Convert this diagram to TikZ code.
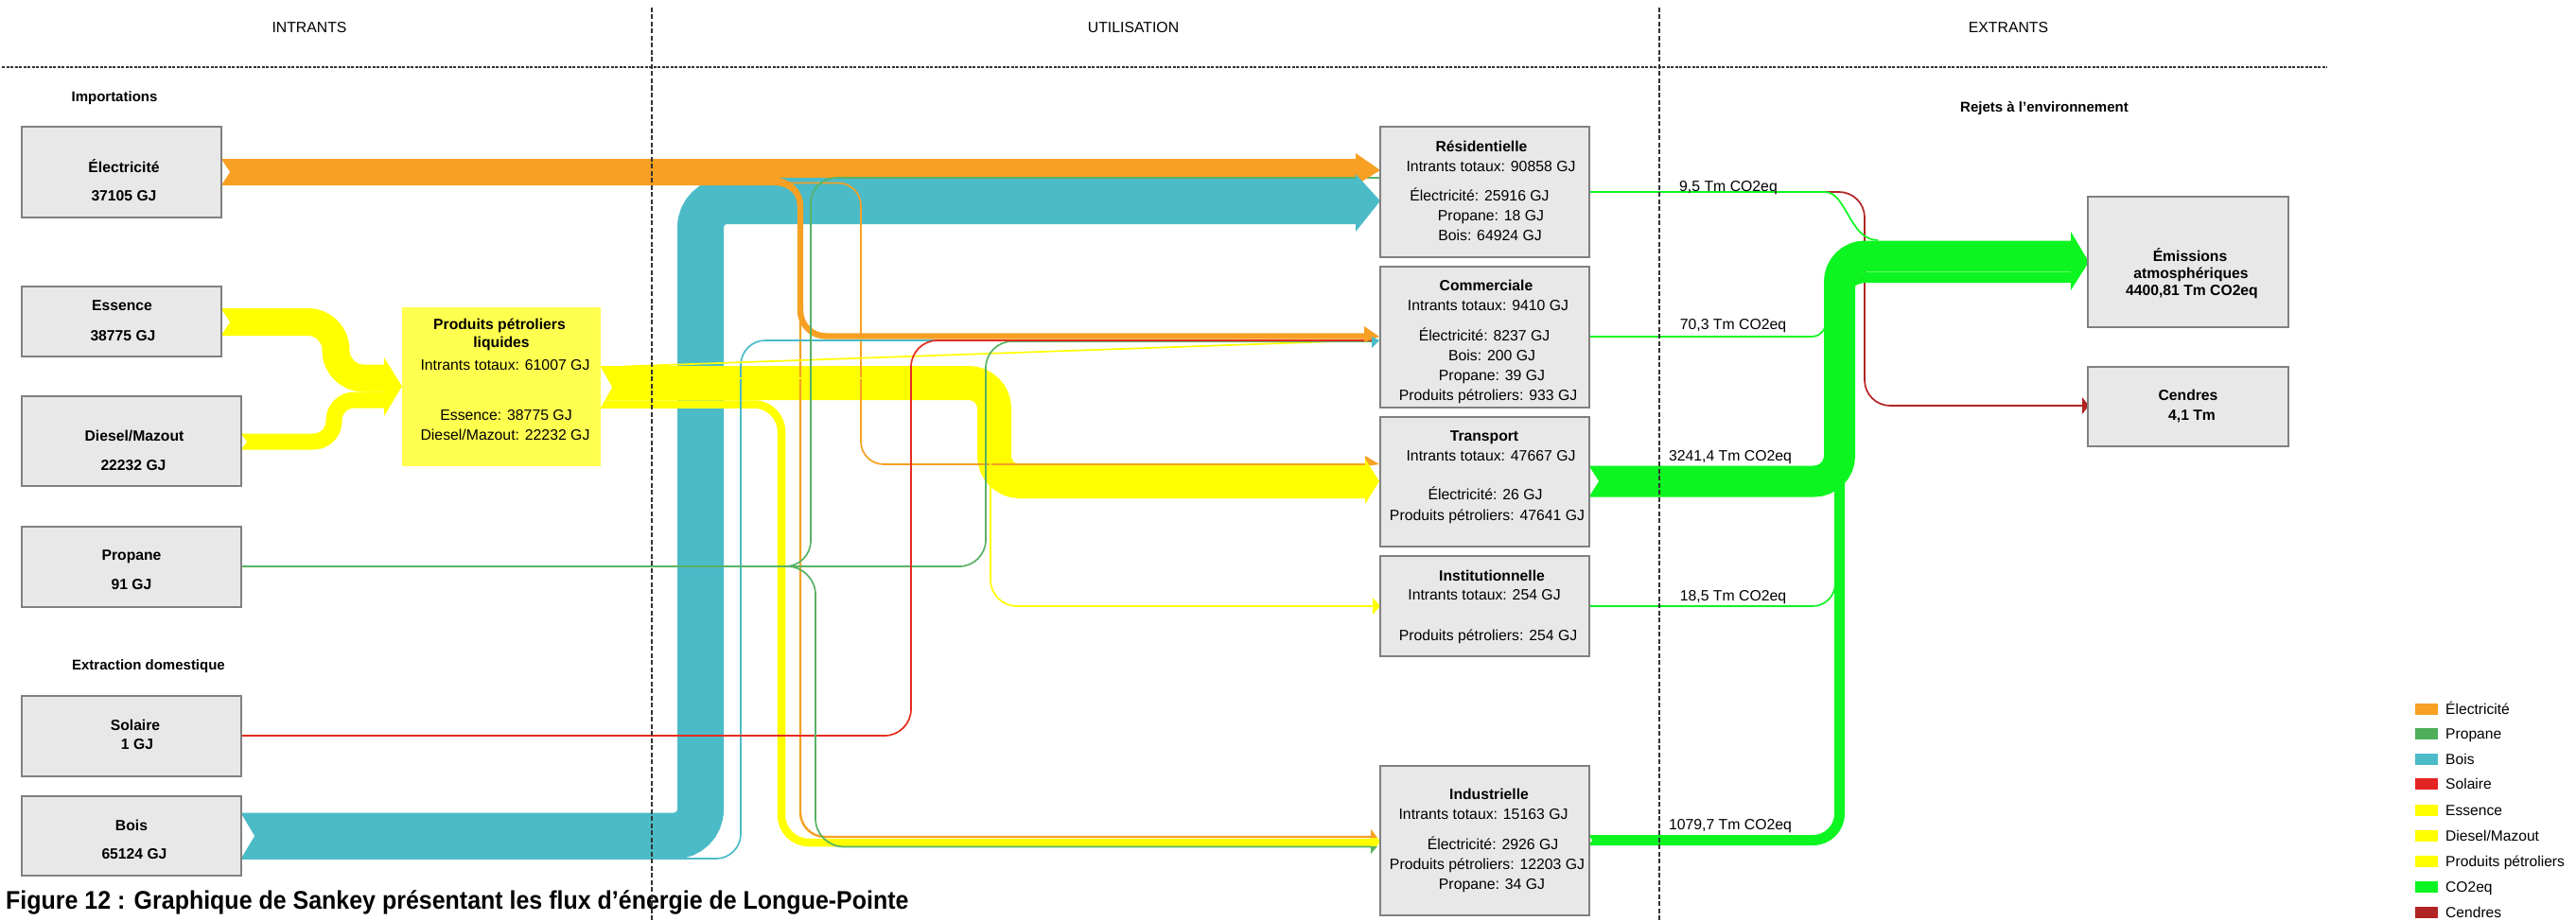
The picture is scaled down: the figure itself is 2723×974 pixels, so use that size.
\documentclass[tikz,border=0pt]{standalone}
\usepackage{fontspec}
\setmainfont{Liberation Sans}
\newfontfamily\captionfont[FakeStretch=0.925]{Liberation Sans}
\definecolor{elec}{RGB}{247,160,35}
\definecolor{prop}{RGB}{88,178,100}
\definecolor{propsw}{RGB}{77,175,90}
\definecolor{bois}{RGB}{75,187,200}
\definecolor{sol}{RGB}{228,45,30}
\definecolor{solsw}{RGB}{228,35,35}
\definecolor{petro}{RGB}{255,255,0}
\definecolor{co2}{RGB}{13,245,32}
\definecolor{cend}{RGB}{178,36,36}
\definecolor{boxfill}{RGB}{232,232,232}
\definecolor{boxline}{RGB}{128,128,128}
\definecolor{pplfill}{RGB}{255,255,80}
\begin{document}
\begin{tikzpicture}[x=1pt,y=-1pt,
  flow/.style={line cap=butt},
  thinflow/.style={line width=1.7pt, line cap=butt},
  box/.style={draw=boxline, line width=1.6pt, fill=boxfill, inner sep=0pt},
  txt/.style={inner sep=0pt, text height=11.3pt, text depth=0pt, font=\fontsize{15.8}{18}\selectfont},
  txtb/.style={txt, font=\fontsize{15.7}{18}\selectfont\bfseries},
  sub/.style={inner sep=0pt, text height=10.7pt, text depth=0pt, font=\fontsize{15}{18}\selectfont\bfseries},
  legtxt/.style={inner sep=0pt, anchor=west, text height=11.2pt, text depth=0pt, font=\fontsize{15.6}{18}\selectfont},
  swatch/.style={inner sep=0pt, minimum width=24pt, minimum height=12pt},
  dashv/.style={draw=black!80, line width=1.1pt, dash pattern=on 5pt off 2.5pt},
  dashh/.style={draw=black!80, line width=1.3pt, dash pattern=on 3pt off 1.5pt}
]
\useasboundingbox (0,0) rectangle (2723,974);
\fill[white] (0,0) rectangle (2723,974);

% ---------- wide energy bands ----------
% Bois -> Residentielle
\draw[flow, bois, line width=49pt, rounded corners=28pt] (255,884) -- (740.5,884) -- (740.5,212.5) -- (1433,212.5);
% Essence and Diesel -> produits petroliers liquides
\draw[flow, petro, line width=29pt, rounded corners=29.5pt] (234,340.5) -- (355,340.5) -- (355,400) -- (406,400);
\draw[flow, petro, line width=17pt, rounded corners=21.5pt] (255,467) -- (353,467) -- (353,423) -- (406,423);
% produits petroliers -> Transport, Industrielle
\draw[flow, petro, line width=36pt, rounded corners=27pt] (635,405) -- (1051,405) -- (1051,509) -- (1443,509);
\draw[flow, petro, line width=8.5pt, rounded corners=29pt] (635,427.5) -- (826,427.5) -- (826,891) -- (1449,891);
% Electricite -> Residentielle, Commerciale, Industrielle, Transport
\draw[flow, elec, line width=20pt] (234,178) -- (1433,178);
\draw[flow, elec, line width=6.4pt, rounded corners=27pt] (234,191) -- (846,191) -- (846,355.5) -- (1442,355.5);
\draw[flow, elec, line width=2.4pt, rounded corners=26pt] (234,195) -- (846,195) -- (846,885) -- (1449,885);
\draw[thinflow, elec, rounded corners=24pt] (234,193.5) -- (910,193.5) -- (910,491) -- (1443,491);

% ---------- thin energy flows ----------
\draw[thinflow, bois, rounded corners=26pt] (255,908) -- (783,908) -- (783,360) -- (1451,360);
\draw[thinflow, petro, rounded corners=28pt] (635,400) -- (1047,400) -- (1047,641) -- (1452,641);
\draw[thinflow, petro] (660,387.5) -- (1455,359.5);
\draw[thinflow, prop, rounded corners=28pt] (255,599) -- (1042,599) -- (1042,361) -- (1451,361);
\draw[thinflow, sol, rounded corners=28pt] (255,778) -- (963,778) -- (963,360) -- (1451,360);
\draw[thinflow, prop, rounded corners=27pt] (255,599) -- (857,599) -- (857,188) -- (1459,188);
\draw[thinflow, prop, rounded corners=30pt] (255,599) -- (862,599) -- (862,895.5) -- (1449,895.5);

% ---------- releases ----------
\draw[thinflow, cend, rounded corners=27pt] (1680,203) -- (1971,203) -- (1971,429) -- (2201,429);
\draw[flow, co2, line width=33pt, rounded corners=27pt] (1680,509) -- (1944.5,509) -- (1944.5,271) -- (2189,271);
\draw[flow, co2, line width=11pt, rounded corners=28pt] (1680,888.5) -- (1944.5,888.5) -- (1944.5,293.5) -- (2189,293.5);
\draw[thinflow, co2] (1680,203) -- (1929,203) .. controls (1952,203) and (1955,254) .. (1985,254);
\draw[thinflow, co2, rounded corners=15pt] (1680,356) -- (1930,356) -- (1930,320);
\draw[thinflow, co2, rounded corners=24pt] (1680,641) -- (1940,641) -- (1940,600);

% ---------- arrow heads ----------
\fill[petro] (406,378) -- (425,408.5) -- (406,440) -- cycle;
\fill[elec] (1433,162) -- (1459,180) -- (1433,196) -- cycle;
\fill[bois] (1433,184) -- (1459,212.5) -- (1433,245) -- cycle;
\fill[elec] (1442,345) -- (1458,356) -- (1442,362) -- cycle;
\fill[bois] (1450,356) -- (1458,360) -- (1450,368) -- cycle;
\fill[elec] (1443,482) -- (1458,491) -- (1443,493) -- cycle;
\fill[petro] (1443,485) -- (1458,509) -- (1443,533) -- cycle;
\fill[petro] (1451,632) -- (1459,641) -- (1451,650) -- cycle;
\fill[petro] (1449,877) -- (1459,890) -- (1449,903) -- cycle;
\fill[elec] (1449,877) -- (1456,886) -- (1449,886) -- cycle;
\fill[prop] (1449,895) -- (1456,895) -- (1449,903) -- cycle;
\fill[co2] (2189,245) -- (2208,277) -- (2189,307) -- cycle;
\fill[cend] (2201,420) -- (2208,429) -- (2201,438) -- cycle;

% ---------- tail notches ----------
\fill[white] (233,167) -- (243,182) -- (233,197) -- cycle;
\fill[white] (233,325.5) -- (243,340.5) -- (233,355.5) -- cycle;
\fill[white] (254,458) -- (261,467) -- (254,476) -- cycle;
\fill[white] (254,859) -- (269,884) -- (254,909) -- cycle;
\fill[white] (634,386.5) -- (647,409.5) -- (634,432.5) -- cycle;
\fill[white] (1679,492) -- (1690,509) -- (1679,526) -- cycle;
\fill[white] (1679,883) -- (1683,888.5) -- (1679,894) -- cycle;

% ---------- source boxes ----------
\node[box, minimum width=211pt, minimum height=96pt] (elec) at (128.5,182) {};
\node[box, minimum width=211pt, minimum height=74pt] (ess) at (128.5,340) {};
\node[box, minimum width=232pt, minimum height=95pt] (dies) at (139,466.5) {};
\node[box, minimum width=232pt, minimum height=85pt] (prop) at (139,599.5) {};
\node[box, minimum width=232pt, minimum height=85pt] (sol) at (139,778.5) {};
\node[box, minimum width=232pt, minimum height=84pt] (bois) at (139,884) {};
\node[txtb] (elecA) at (131,177) {Électricité};
\node[txtb] (elecB) at (131,207) {37105 GJ};
\node[txtb] (essA) at (129,323) {Essence};
\node[txtb] (essB) at (130,355) {38775 GJ};
\node[txtb] (diesA) at (142,461) {Diesel/Mazout};
\node[txtb] (diesB) at (141,492) {22232 GJ};
\node[txtb] (propA) at (139,587) {Propane};
\node[txtb] (propB) at (139,618) {91 GJ};
\node[txtb] (solA) at (143,767) {Solaire};
\node[txtb] (solB) at (145,787) {1 GJ};
\node[txtb] (boisA) at (139,873) {Bois};
\node[txtb] (boisB) at (142,903) {65124 GJ};

% ---------- liquid petroleum products ----------
\node[fill=pplfill, inner sep=0pt, minimum width=210pt, minimum height=168pt] (ppl) at (530,409) {};
\node[txtb] (pplA) at (528,343) {Produits pétroliers};
\node[txtb] (pplB) at (530,362) {liquides};
\node[txt] (pplC) at (534,386) {Intrants totaux: 61007 GJ};
\node[txt] (pplD) at (535,439) {Essence: 38775 GJ};
\node[txt] (pplE) at (534,460) {Diesel/Mazout: 22232 GJ};

% ---------- sectors ----------
\node[box, minimum width=221pt, minimum height=138pt] (res) at (1569.5,203) {};
\node[box, minimum width=221pt, minimum height=149pt] (com) at (1569.5,356.5) {};
\node[box, minimum width=221pt, minimum height=137pt] (trans) at (1569.5,509.5) {};
\node[box, minimum width=221pt, minimum height=106pt] (inst) at (1569.5,641) {};
\node[box, minimum width=221pt, minimum height=158pt] (ind) at (1569.5,889) {};

\node[txtb] (resA) at (1566,155) {Résidentielle};
\node[txt] (resB) at (1576,176) {Intrants totaux: 90858 GJ};
\node[txt] (resC) at (1564,207) {Électricité: 25916 GJ};
\node[txt] (resD) at (1576,228) {Propane: 18 GJ};
\node[txt] (resE) at (1575,249) {Bois: 64924 GJ};

\node[txtb] (comA) at (1571,302) {Commerciale};
\node[txt] (comB) at (1573,323) {Intrants totaux: 9410 GJ};
\node[txt] (comC) at (1569,355) {Électricité: 8237 GJ};
\node[txt] (comD) at (1577,376) {Bois: 200 GJ};
\node[txt] (comE) at (1577,397) {Propane: 39 GJ};
\node[txt] (comF) at (1573,418) {Produits pétroliers: 933 GJ};

\node[txtb] (transA) at (1569,461) {Transport};
\node[txt] (transB) at (1576,482) {Intrants totaux: 47667 GJ};
\node[txt] (transC) at (1570,523) {Électricité: 26 GJ};
\node[txt] (transD) at (1572,545) {Produits pétroliers: 47641 GJ};

\node[txtb] (instA) at (1577,609) {Institutionnelle};
\node[txt] (instB) at (1569,629) {Intrants totaux: 254 GJ};
\node[txt] (instC) at (1573,672) {Produits pétroliers: 254 GJ};

\node[txtb] (indA) at (1574,840) {Industrielle};
\node[txt] (indB) at (1568,861) {Intrants totaux: 15163 GJ};
\node[txt] (indC) at (1578,893) {Électricité: 2926 GJ};
\node[txt] (indD) at (1572,914) {Produits pétroliers: 12203 GJ};
\node[txt] (indE) at (1577,935) {Propane: 34 GJ};

% ---------- release values ----------
\node[txt] (vRes) at (1827,197) {9,5 Tm CO2eq};
\node[txt] (vCom) at (1832,343) {70,3 Tm CO2eq};
\node[txt] (vTrans) at (1829,482) {3241,4 Tm CO2eq};
\node[txt] (vInst) at (1832,630) {18,5 Tm CO2eq};
\node[txt] (vInd) at (1829,872) {1079,7 Tm CO2eq};

% ---------- output boxes ----------
\node[box, minimum width=212pt, minimum height=138pt] (emis) at (2313,277) {};
\node[box, minimum width=212pt, minimum height=84pt] (cend) at (2313,430) {};
\node[txtb] (emisA) at (2315,271) {Émissions};
\node[txtb] (emisB) at (2316,289) {atmosphériques};
\node[txtb] (emisC) at (2317,307) {4400,81 Tm CO2eq};
\node[txtb] (cendA) at (2313,418) {Cendres};
\node[txtb] (cendB) at (2317,439) {4,1 Tm};

% ---------- headings ----------
\node[txt] (hIn) at (327,28.5) {INTRANTS};
\node[txt] (hUse) at (1198,28.5) {UTILISATION};
\node[txt] (hOut) at (2123,28.5) {EXTRANTS};
\node[sub] (sImp) at (121,102) {Importations};
\node[sub] (sExt) at (157,703) {Extraction domestique};
\node[sub] (sRej) at (2161,113) {Rejets à l'environnement};

% ---------- legend ----------
\foreach \yy/\cc/\tt [count=\i] in {749.5/elec/Électricité, 776/propsw/Propane, 802.5/bois/Bois, 829/solsw/Solaire, 856.5/petro/Essence, 883.5/petro/Diesel\slash Mazout, 910.5/petro/Produits pétroliers, 937.5/co2/CO2eq, 964.5/cend/Cendres}{
  \node[swatch, fill=\cc] (sw\i) at (2565,\yy) {};
  \node[legtxt] (lg\i) at (2585,\yy) {\tt};
}

% ---------- caption ----------
\node[inner sep=0pt, anchor=base west, font=\captionfont\fontsize{27}{30}\selectfont\bfseries] (caption) at (6,961) {Figure 12 : Graphique de Sankey présentant les flux d’énergie de Longue-Pointe};

% ---------- section separators ----------
\draw[dashh] (2,71) -- (2460,71);
\draw[dashv] (689,8) -- (689,974);
\draw[dashv] (1754,8) -- (1754,974);
\end{tikzpicture}
\end{document}
